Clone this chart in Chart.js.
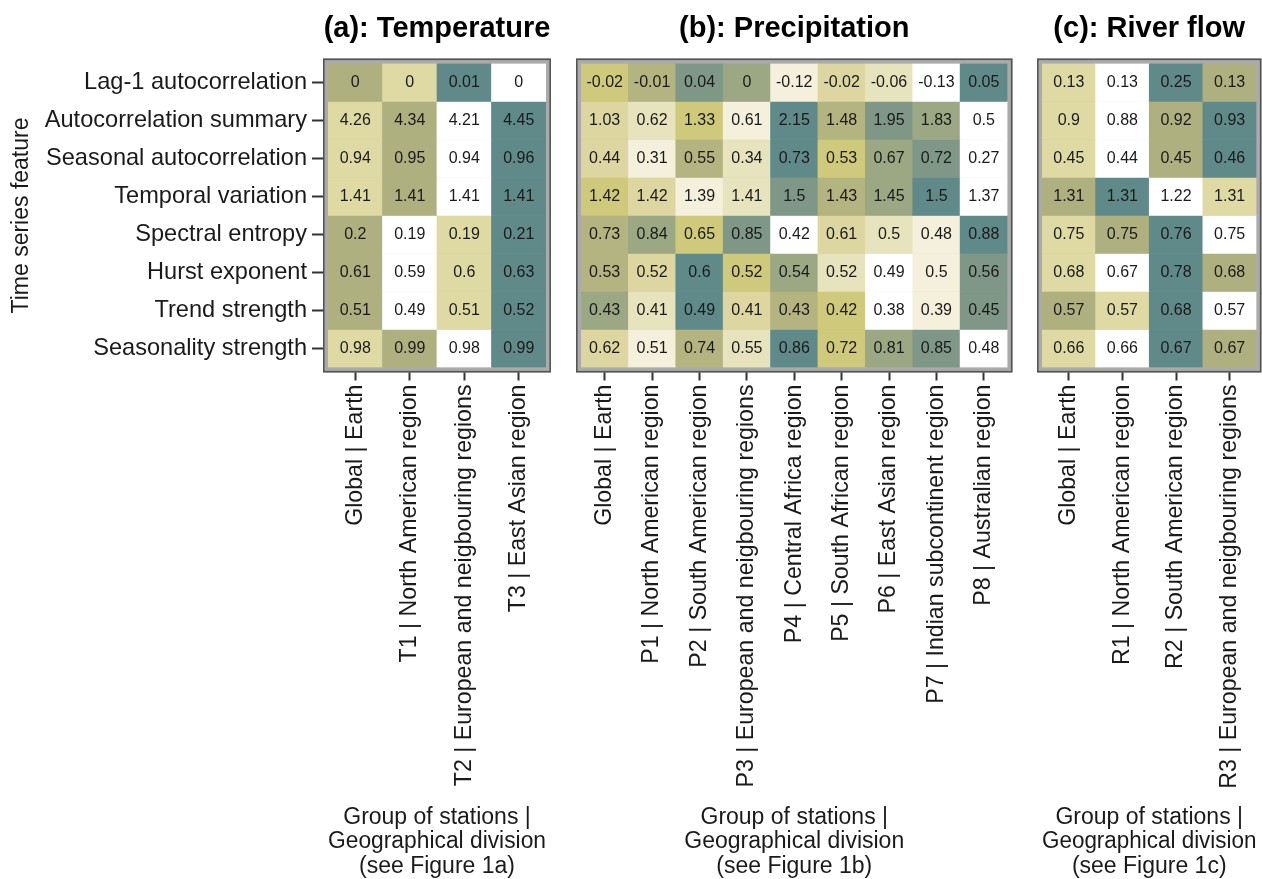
<!DOCTYPE html>
<html><head><meta charset="utf-8">
<script src="https://cdn.jsdelivr.net/npm/chart.js@4.4.1/dist/chart.umd.min.js"></script>
<style>
html,body{margin:0;padding:0;background:#fff;width:1262px;height:879px;overflow:hidden;}
canvas{position:absolute;top:0;}
</style></head><body>
<canvas id="ca" width="560" height="879" style="left:0px"></canvas>
<canvas id="cb" width="470" height="879" style="left:560px"></canvas>
<canvas id="cc" width="232" height="879" style="left:1030px"></canvas>
<script>
// ---------- data ----------
const rowNames = ['Lag-1 autocorrelation','Autocorrelation summary','Seasonal autocorrelation','Temporal variation','Spectral entropy','Hurst exponent','Trend strength','Seasonality strength'];

const tempCols = ['Global | Earth','T1 | North American region','T2 | European and neigbouring regions','T3 | East Asian region'];
const tempValues = [
  [0,0,0.01,0],
  [4.26,4.34,4.21,4.45],
  [0.94,0.95,0.94,0.96],
  [1.41,1.41,1.41,1.41],
  [0.2,0.19,0.19,0.21],
  [0.61,0.59,0.6,0.63],
  [0.51,0.49,0.51,0.52],
  [0.98,0.99,0.98,0.99]
];
const tempRank = [[3,2,4,1],[2,3,1,4],[2,3,1,4],[2,3,1,4],[3,1,2,4],[3,1,2,4],[3,1,2,4],[2,3,1,4]];

const precCols = ['Global | Earth','P1 | North American region','P2 | South American region','P3 | European and neigbouring regions','P4 | Central Africa region','P5 | South African region','P6 | East Asian region','P7 | Indian subcontinent region','P8 | Australian region'];
const precValues = [
  [-0.02,-0.01,0.04,0,-0.12,-0.02,-0.06,-0.13,0.05],
  [1.03,0.62,1.33,0.61,2.15,1.48,1.95,1.83,0.5],
  [0.44,0.31,0.55,0.34,0.73,0.53,0.67,0.72,0.27],
  [1.42,1.42,1.39,1.41,1.5,1.43,1.45,1.5,1.37],
  [0.73,0.84,0.65,0.85,0.42,0.61,0.5,0.48,0.88],
  [0.53,0.52,0.6,0.52,0.54,0.52,0.49,0.5,0.56],
  [0.43,0.41,0.49,0.41,0.43,0.42,0.38,0.39,0.45],
  [0.62,0.51,0.74,0.55,0.86,0.72,0.81,0.85,0.48]
];
const precRank = [
  [5,6,8,7,2,4,3,1,9],
  [4,3,5,2,9,6,8,7,1],
  [4,2,6,3,9,5,7,8,1],
  [5,4,2,3,8,6,7,9,1],
  [6,7,5,8,1,4,3,2,9],
  [6,4,9,5,7,3,1,2,8],
  [7,3,9,4,6,5,1,2,8],
  [4,2,6,3,9,5,7,8,1]
];

const riverCols = ['Global | Earth','R1 | North American region','R2 | South American region','R3 | European and neigbouring regions'];
const riverValues = [
  [0.13,0.13,0.25,0.13],
  [0.9,0.88,0.92,0.93],
  [0.45,0.44,0.45,0.46],
  [1.31,1.31,1.22,1.31],
  [0.75,0.75,0.76,0.75],
  [0.68,0.67,0.78,0.68],
  [0.57,0.57,0.68,0.57],
  [0.66,0.66,0.67,0.67]
];
const riverRank = [[2,1,4,3],[2,1,3,4],[2,1,3,4],[3,4,1,2],[2,3,4,1],[2,1,4,3],[3,2,4,1],[2,1,4,3]];

const pal4 = ['#ffffff','#dfd9a3','#aeb07f','#5f8a89'];
const pal9 = ['#ffffff','#f4f0dc','#e7e3bd','#ddd6a0','#cfc97b','#b3b47f','#9ca783','#7f9786','#5f8a89'];

// ---------- drawing ----------
const FONT = '"Liberation Sans", Arial, Helvetica, sans-serif';
Chart.defaults.font.family = FONT;
Chart.defaults.color = '#1a1a1a';

const decor = {
  id: 'decor',
  beforeDatasetsDraw(chart) {
    const a = chart.chartArea, ctx = chart.ctx;
    ctx.save();
    ctx.fillStyle = '#ababab';
    ctx.fillRect(a.left - 5, a.top - 5, a.right - a.left + 10, a.bottom - a.top + 10);
    ctx.strokeStyle = '#555555';
    ctx.lineWidth = 1.6;
    ctx.strokeRect(a.left - 4.2, a.top - 4.2, a.right - a.left + 8.4, a.bottom - a.top + 8.4);
    ctx.restore();
  },
  afterDatasetsDraw(chart, args, opts) {
    const a = chart.chartArea, ctx = chart.ctx;
    const xs = chart.scales.x, ys = chart.scales.y;
    ctx.save();
    ctx.fillStyle = '#1a1a1a';
    ctx.textAlign = 'center';
    ctx.textBaseline = 'middle';
    ctx.font = '16px ' + FONT;
    opts.values.forEach((row, r) => {
      row.forEach((v, c) => {
        ctx.fillText(String(v), xs.getPixelForValue(c), ys.getPixelForValue(r) + 0.5);
      });
    });
    ctx.fillStyle = '#000000';
    ctx.font = 'bold 29px ' + FONT;
    ctx.fillText(opts.title, (a.left + a.right) / 2, 28.5);
    ctx.restore();
  }
};

function makePanel(id, title, cols, values, ranks, palette, figRef, showY, padLeft, padRight) {
  const datasets = rowNames.map((name, r) => ({
    label: name,
    data: cols.map(() => [r - 0.5, r + 0.5]),
    backgroundColor: ranks[r].map(k => palette[k - 1]),
    borderWidth: 0,
    grouped: false,
    barPercentage: 1,
    categoryPercentage: 1
  }));
  return new Chart(document.getElementById(id), {
    type: 'bar',
    data: { labels: cols, datasets },
    options: {
      responsive: false,
      animation: false,
      layout: { padding: { top: 63.5, bottom: 0, left: padLeft, right: padRight } },
      plugins: {
        legend: { display: false },
        tooltip: { enabled: false },
        decor: { values, title }
      },
      scales: {
        x: {
          type: 'category',
          offset: true,
          border: { display: false },
          grid: { offset: false, drawOnChartArea: false, drawTicks: true, tickLength: 13, tickWidth: 2, tickColor: '#333333' },
          ticks: { font: { size: 23.2 }, color: '#1a1a1a', padding: 4, minRotation: 90, maxRotation: 90, autoSkip: false },
          title: {
            display: true,
            text: ['Group of stations |', 'Geographical division', '(see Figure ' + figRef + ')'],
            font: { size: 23, lineHeight: 1.07 },
            color: '#1a1a1a',
            padding: { top: 0, bottom: 0 }
          },
          afterFit: s => { s.height = 879 - 367.5; }
        },
        y: {
          type: 'linear',
          min: -0.5,
          max: 7.5,
          reverse: true,
          display: showY,
          afterBuildTicks: s => { s.ticks = rowNames.map((_, i) => ({ value: i })); },
          border: { display: false },
          grid: { drawOnChartArea: false, drawTicks: true, tickLength: 16, tickWidth: 2, tickColor: '#333333' },
          ticks: { callback: v => rowNames[v], font: { size: 23.6 }, color: '#1a1a1a', padding: 5 },
          title: { display: showY, text: 'Time series feature', font: { size: 23 }, color: '#1a1a1a', padding: { top: 8, bottom: 0 } },
          afterFit: s => { if (showY) s.width = 328; }
        }
      }
    },
    plugins: [decor]
  });
}

makePanel('ca', '(a): Temperature', tempCols, tempValues, tempRank, pal4, '1a', true, 0, 14);
makePanel('cb', '(b): Precipitation', precCols, precValues, precRank, pal9, '1b', false, 21, 22.5);
makePanel('cc', '(c): River flow', riverCols, riverValues, riverRank, pal4, '1c', false, 12, 4);
</script>
</body></html>
